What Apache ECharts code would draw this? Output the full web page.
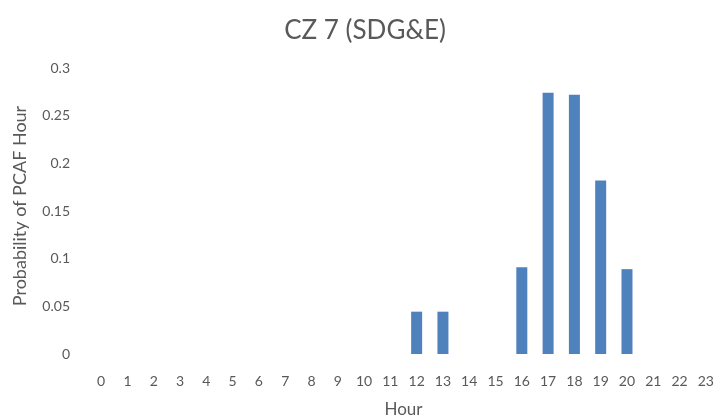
<!DOCTYPE html>
<html><head><meta charset="utf-8">
<script src="https://cdn.jsdelivr.net/npm/echarts@6/dist/echarts.min.js"></script>
<style>html,body{margin:0;padding:0;background:#fff}#c{width:718px;height:420px}</style>
</head><body><div id="c"></div>
<script>
const hours = ['0','1','2','3','4','5','6','7','8','9','10','11','12','13','14','15','16','17','18','19','20','21','22','23'];
const probability = [0,0,0,0,0,0,0,0,0,0,0,0,0.0444,0.0444,0,0,0.0909,0.274,0.272,0.182,0.089,0,0,0];
const yTicks = {min:0, max:0.3, interval:0.05};
const chartTitle = 'CZ 7 (SDG&E)';
const xName = 'Hour';
const yName = 'Probability of PCAF Hour';

const font = 'Lato, "Open Sans", sans-serif';
const chart = echarts.init(document.getElementById('c'));
chart.setOption({
  animation:false,
  title:{text:chartTitle,left:360,top:13,textAlign:'center',textStyle:{fontFamily:font,fontSize:26,fontWeight:'normal',color:'#595959'}},
  grid:{left:88,top:68,width:631,height:286,containLabel:false,outerBoundsMode:'none'},
  xAxis:{type:'category',data:hours,
    axisLine:{show:false},axisTick:{show:false},
    axisLabel:{margin:20,color:'#595959',fontFamily:font,fontSize:14},
    name:xName,nameLocation:'middle',nameGap:47,
    nameTextStyle:{color:'#595959',fontFamily:font,fontSize:17}},
  yAxis:{type:'value',min:yTicks.min,max:yTicks.max,interval:yTicks.interval,
    splitLine:{show:false},axisLine:{show:false},axisTick:{show:false},
    axisLabel:{margin:18,color:'#595959',fontFamily:font,fontSize:14,formatter:v=>String(+v.toFixed(2))},
    name:yName,nameLocation:'middle',nameGap:59,nameRotate:90,
    nameTextStyle:{color:'#595959',fontFamily:font,fontSize:18,padding:[0,0,0,10]}},
  series:[{type:'bar',data:probability,barWidth:11,itemStyle:{color:'#4f81bd'}}]
});
</script></body></html>
